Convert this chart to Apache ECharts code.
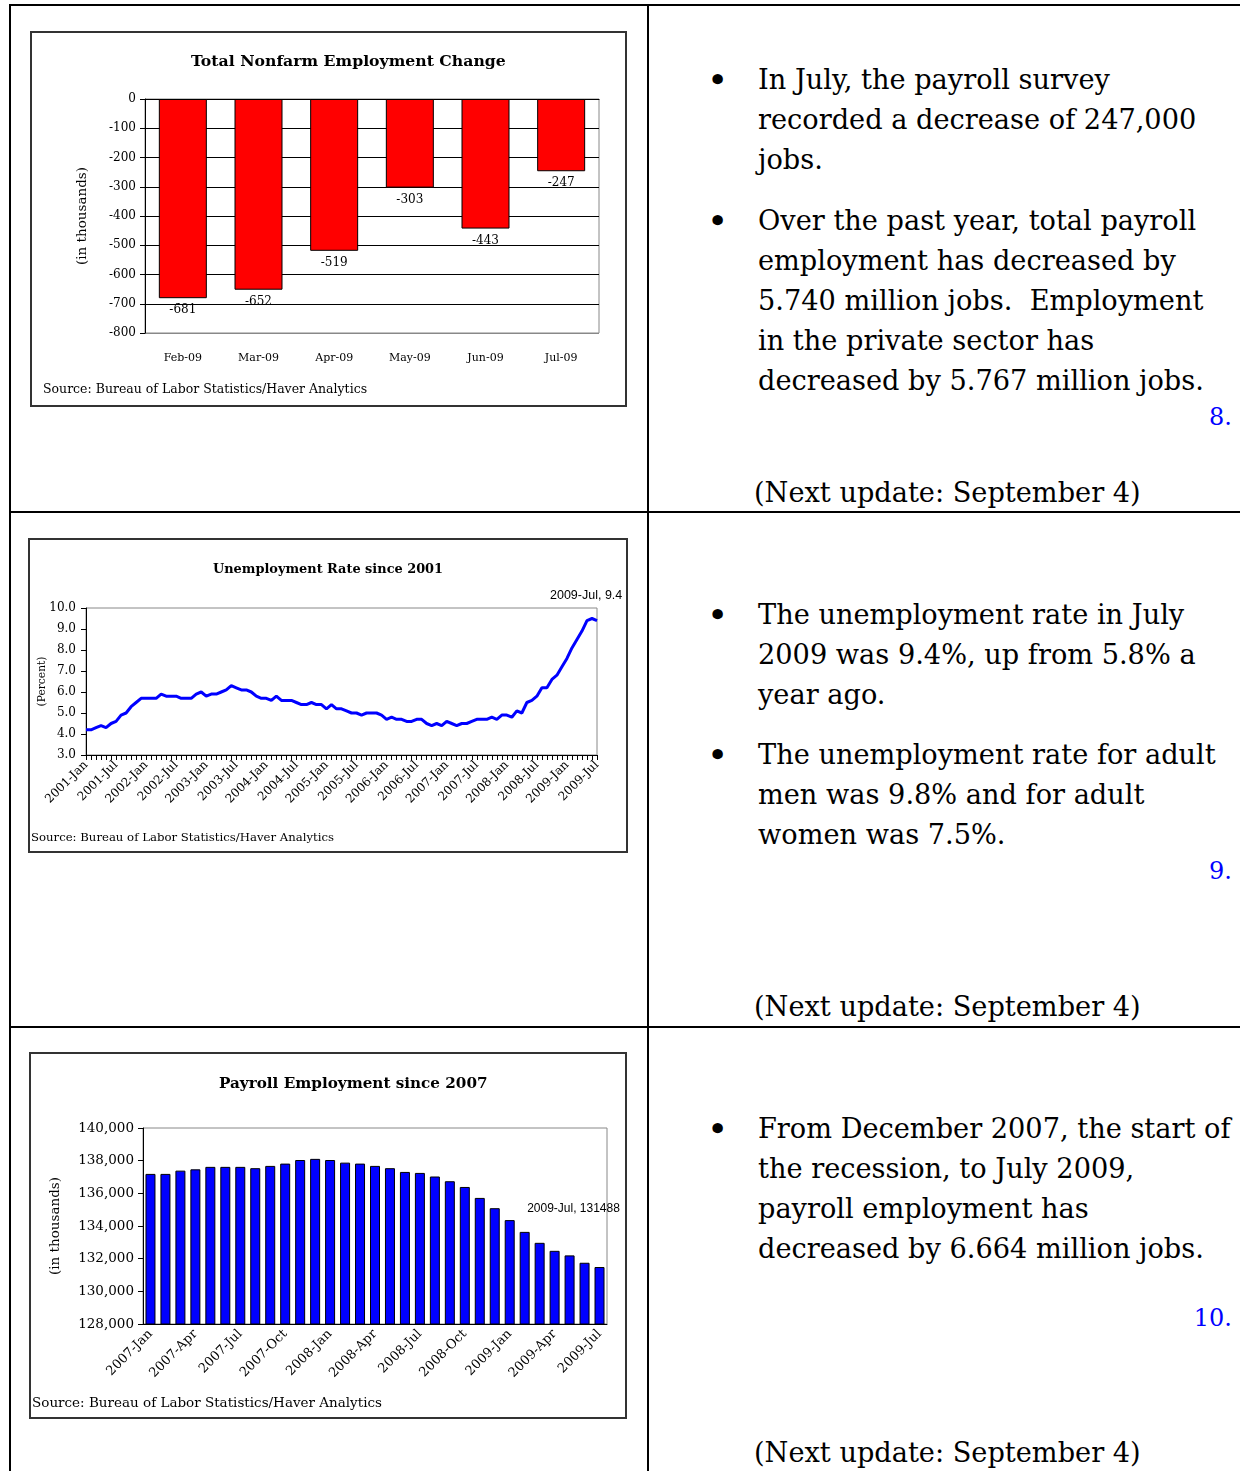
<!DOCTYPE html>
<html>
<head>
<meta charset="utf-8">
<title>Employment Situation</title>
<script src="https://cdn.jsdelivr.net/npm/echarts@6/dist/echarts.min.js"></script>
<style>
  body { margin: 0; width: 1240px; height: 1471px; position: relative; overflow: hidden; background: #fff; font-family: 'DejaVu Serif', serif; color: #000; }
  .rule { position: absolute; background: #000; }
  .chart { position: absolute; }
  .txt { position: absolute; left: 758px; font-size: 27.2px; line-height: 40px; white-space: nowrap; }
  .dot { position: absolute; left: 707px; font-size: 36px; line-height: 40px; }
  .num { position: absolute; right: 8px; font-size: 24px; line-height: 40px; color: #0000ff; }
  .next { position: absolute; left: 754px; font-size: 27.2px; line-height: 40px; white-space: nowrap; }
</style>
</head>
<body>
<!-- table rules -->
<div class="rule" style="left:9px;top:4px;width:1231px;height:2px"></div>
<div class="rule" style="left:9px;top:4px;width:2px;height:1467px"></div>
<div class="rule" style="left:647px;top:4px;width:2px;height:1467px"></div>
<div class="rule" style="left:9px;top:511px;width:1231px;height:2px"></div>
<div class="rule" style="left:9px;top:1026px;width:1231px;height:2px"></div>

<div id="c1" class="chart" style="left:30px;top:31px;width:597px;height:376px"></div>
<div id="c2" class="chart" style="left:28px;top:538px;width:600px;height:315px"></div>
<div id="c3" class="chart" style="left:29px;top:1052px;width:598px;height:367px"></div>

<!-- row 1 text -->
<div class="dot" style="top:60px">•</div>
<div class="txt" style="top:60px">In July, the payroll survey<br>recorded a decrease of 247,000<br>jobs.</div>
<div class="dot" style="top:201px">•</div>
<div class="txt" style="top:201px">Over the past year, total payroll<br>employment has decreased by<br>5.740 million jobs.&nbsp; Employment<br>in the private sector has<br>decreased by 5.767 million jobs.</div>
<div class="num" style="top:397px">8.</div>
<div class="next" style="top:473px">(Next update: September 4)</div>

<!-- row 2 text -->
<div class="dot" style="top:595px">•</div>
<div class="txt" style="top:595px">The unemployment rate in July<br>2009 was 9.4%, up from 5.8% a<br>year ago.</div>
<div class="dot" style="top:735px">•</div>
<div class="txt" style="top:735px">The unemployment rate for adult<br>men was 9.8% and for adult<br>women was 7.5%.</div>
<div class="num" style="top:851px">9.</div>
<div class="next" style="top:987px">(Next update: September 4)</div>

<!-- row 3 text -->
<div class="dot" style="top:1109px">•</div>
<div class="txt" style="top:1109px">From December 2007, the start of<br>the recession, to July 2009,<br>payroll employment has<br>decreased by 6.664 million jobs.</div>
<div class="num" style="top:1298px">10.</div>
<div class="next" style="top:1433px">(Next update: September 4)</div>

<script>
const SERIF = 'DejaVu Serif'
const SANS = 'Liberation Sans'
const SOURCE = 'Source: Bureau of Labor Statistics/Haver Analytics'

// chart 1: monthly change, thousands
const nfMonths = ['Feb-09', 'Mar-09', 'Apr-09', 'May-09', 'Jun-09', 'Jul-09']
const nfChange = [-681, -652, -519, -303, -443, -247]

// chart 2: unemployment rate, percent, 2001-Jan .. 2009-Jul
const urYears = [2001, 2002, 2003, 2004, 2005, 2006, 2007, 2008, 2009]
const monthNames = ['Jan', 'Feb', 'Mar', 'Apr', 'May', 'Jun', 'Jul', 'Aug', 'Sep', 'Oct', 'Nov', 'Dec']
const urRate = [
  4.2, 4.2, 4.3, 4.4, 4.3, 4.5, 4.6, 4.9, 5.0, 5.3, 5.5, 5.7,
  5.7, 5.7, 5.7, 5.9, 5.8, 5.8, 5.8, 5.7, 5.7, 5.7, 5.9, 6.0,
  5.8, 5.9, 5.9, 6.0, 6.1, 6.3, 6.2, 6.1, 6.1, 6.0, 5.8, 5.7,
  5.7, 5.6, 5.8, 5.6, 5.6, 5.6, 5.5, 5.4, 5.4, 5.5, 5.4, 5.4,
  5.2, 5.4, 5.2, 5.2, 5.1, 5.0, 5.0, 4.9, 5.0, 5.0, 5.0, 4.9,
  4.7, 4.8, 4.7, 4.7, 4.6, 4.6, 4.7, 4.7, 4.5, 4.4, 4.5, 4.4,
  4.6, 4.5, 4.4, 4.5, 4.5, 4.6, 4.7, 4.7, 4.7, 4.8, 4.7, 4.9,
  4.9, 4.8, 5.1, 5.0, 5.5, 5.6, 5.8, 6.2, 6.2, 6.6, 6.8, 7.2,
  7.6, 8.1, 8.5, 8.9, 9.4, 9.5, 9.4
]

// chart 3: payroll employment, thousands, 2007-Jan .. 2009-Jul
const peYears = [2007, 2008, 2009]
const peLevel = [
  137190, 137190, 137390, 137470, 137620, 137620, 137620, 137540, 137680, 137820, 138040, 138110,
  138040, 137880, 137820, 137680, 137540, 137310, 137250, 137030, 136740, 136390, 135720, 135090,
  134360, 133640, 132970, 132480, 132200, 131750, 131488
]

function monthLabels (years, count) {
  const out = []
  years.forEach(y => monthNames.forEach(m => out.push(y + '-' + m)))
  return out.slice(0, count)
}
const urMonths = monthLabels(urYears, urRate.length)
const peMonths = monthLabels(peYears, peLevel.length)

function frame (w, h) {
  return { type: 'rect', silent: true, shape: { x: 1, y: 1, width: w - 2, height: h - 2 }, style: { fill: null, stroke: '#333', lineWidth: 2 } }
}
function source (left, top, size) {
  return { type: 'text', left: left, top: top, silent: true, style: { text: SOURCE, fontFamily: SERIF, fontSize: size, fill: '#000' } }
}
const black = { color: '#000', width: 1 }

// ---- chart 1
const c1 = echarts.init(document.getElementById('c1'))
c1.setOption({
  animation: false,
  title: { text: 'Total Nonfarm Employment Change', left: 156, top: 18, textStyle: { fontFamily: SERIF, fontWeight: 'bold', fontSize: 15.7, color: '#000' } },
  grid: { left: 115, top: 68, width: 454, height: 234, show: true, borderColor: '#888', borderWidth: 1, outerBoundsMode: 'none' },
  xAxis: [
    { type: 'category', data: nfMonths, position: 'top', axisLine: { onZero: false, lineStyle: black }, axisTick: { length: 5, lineStyle: black }, axisLabel: { show: false } },
    { type: 'category', data: nfMonths, position: 'bottom', axisLine: { show: false }, axisTick: { show: false }, axisLabel: { margin: 20, fontFamily: SERIF, fontSize: 11, color: '#000' } }
  ],
  yAxis: {
    type: 'value', min: -800, max: 0, interval: 100,
    name: '(in thousands)', nameLocation: 'middle', nameRotate: 90, nameGap: 56, nameMoveOverlap: false,
    nameTextStyle: { fontFamily: SERIF, fontSize: 13.5, color: '#000' },
    axisLine: { show: true, lineStyle: black },
    axisTick: { show: true, length: 5, lineStyle: black },
    axisLabel: { fontFamily: SERIF, fontSize: 12, color: '#000', margin: 9 },
    splitLine: { lineStyle: { color: ['#888', '#000', '#000', '#000', '#000', '#000', '#000', '#000', '#000'], width: 1 } }
  },
  series: [{
    type: 'bar', data: nfChange, barWidth: 48,
    itemStyle: { color: '#ff0000', borderColor: '#000', borderWidth: 1 },
    label: { show: true, position: 'bottom', distance: 6, fontFamily: SERIF, fontSize: 12, color: '#000' }
  }],
  graphic: [frame(597, 376), source(13, 352, 12.5)]
})

// ---- chart 2
const c2 = echarts.init(document.getElementById('c2'))
c2.setOption({
  animation: false,
  title: { text: 'Unemployment Rate since 2001', left: 180, top: 20, textStyle: { fontFamily: SERIF, fontWeight: 'bold', fontSize: 12.9, color: '#000' } },
  grid: { left: 58, top: 70, width: 511, height: 147, show: true, borderColor: '#888', borderWidth: 1, outerBoundsMode: 'none' },
  xAxis: {
    type: 'category', data: urMonths, boundaryGap: false,
    axisLine: { lineStyle: black },
    axisTick: { interval: 0, length: 5, lineStyle: black },
    axisLabel: { interval: 5, rotate: 45, margin: 8, fontFamily: SERIF, fontSize: 12, color: '#000' }
  },
  yAxis: {
    type: 'value', min: 3, max: 10, interval: 1,
    name: '(Percent)', nameLocation: 'middle', nameRotate: 90, nameGap: 38, nameMoveOverlap: false,
    nameTextStyle: { fontFamily: SERIF, fontSize: 10.7, color: '#000' },
    axisLine: { show: true, lineStyle: black },
    axisTick: { show: true, length: 5, lineStyle: black },
    axisLabel: { fontFamily: SERIF, fontSize: 12, color: '#000', margin: 10, formatter: v => v.toFixed(1) },
    splitLine: { show: false }
  },
  series: [{
    type: 'line', data: urRate, showSymbol: false, symbol: 'none',
    lineStyle: { color: '#0000ff', width: 3 },
    endLabel: { show: true, distance: 0, offset: [-47, -25], formatter: p => p.name + ', ' + p.value, fontFamily: SANS, fontSize: 12.5, color: '#000' }
  }],
  graphic: [frame(600, 315), source(3, 294, 11.7)]
})

// ---- chart 3
const c3 = echarts.init(document.getElementById('c3'))
const peLast = peLevel.length - 1
c3.setOption({
  animation: false,
  title: { text: 'Payroll Employment since 2007', left: 185, top: 20, textStyle: { fontFamily: SERIF, fontWeight: 'bold', fontSize: 15.2, color: '#000' } },
  grid: { left: 114, top: 76, width: 464, height: 196, show: true, borderColor: '#888', borderWidth: 1, outerBoundsMode: 'none' },
  xAxis: {
    type: 'category', data: peMonths,
    axisLine: { lineStyle: black },
    axisTick: { interval: 0, length: 5, lineStyle: black },
    axisLabel: { interval: 2, rotate: 45, margin: 8, fontFamily: SERIF, fontSize: 13, color: '#000' }
  },
  yAxis: {
    type: 'value', min: 128000, max: 140000, interval: 2000,
    name: '(in thousands)', nameLocation: 'middle', nameRotate: 90, nameGap: 81, nameMoveOverlap: false,
    nameTextStyle: { fontFamily: SERIF, fontSize: 13.5, color: '#000' },
    axisLine: { show: true, lineStyle: black },
    axisTick: { show: true, length: 5, lineStyle: black },
    axisLabel: { fontFamily: SERIF, fontSize: 13.5, color: '#000', margin: 9, formatter: v => v.toLocaleString('en-US') },
    splitLine: { show: false }
  },
  series: [{
    type: 'bar', data: peLevel, barWidth: 10,
    itemStyle: { color: '#0000ff', borderColor: '#000', borderWidth: 1 },
    label: {
      show: true, position: 'top', distance: 5, offset: [-26, -47],
      fontFamily: SANS, fontSize: 12, color: '#000',
      formatter: p => p.dataIndex === peLast ? p.name + ', ' + p.value : ''
    }
  }],
  graphic: [frame(598, 367), source(3, 344, 13.5)]
})
</script>
</body>
</html>
